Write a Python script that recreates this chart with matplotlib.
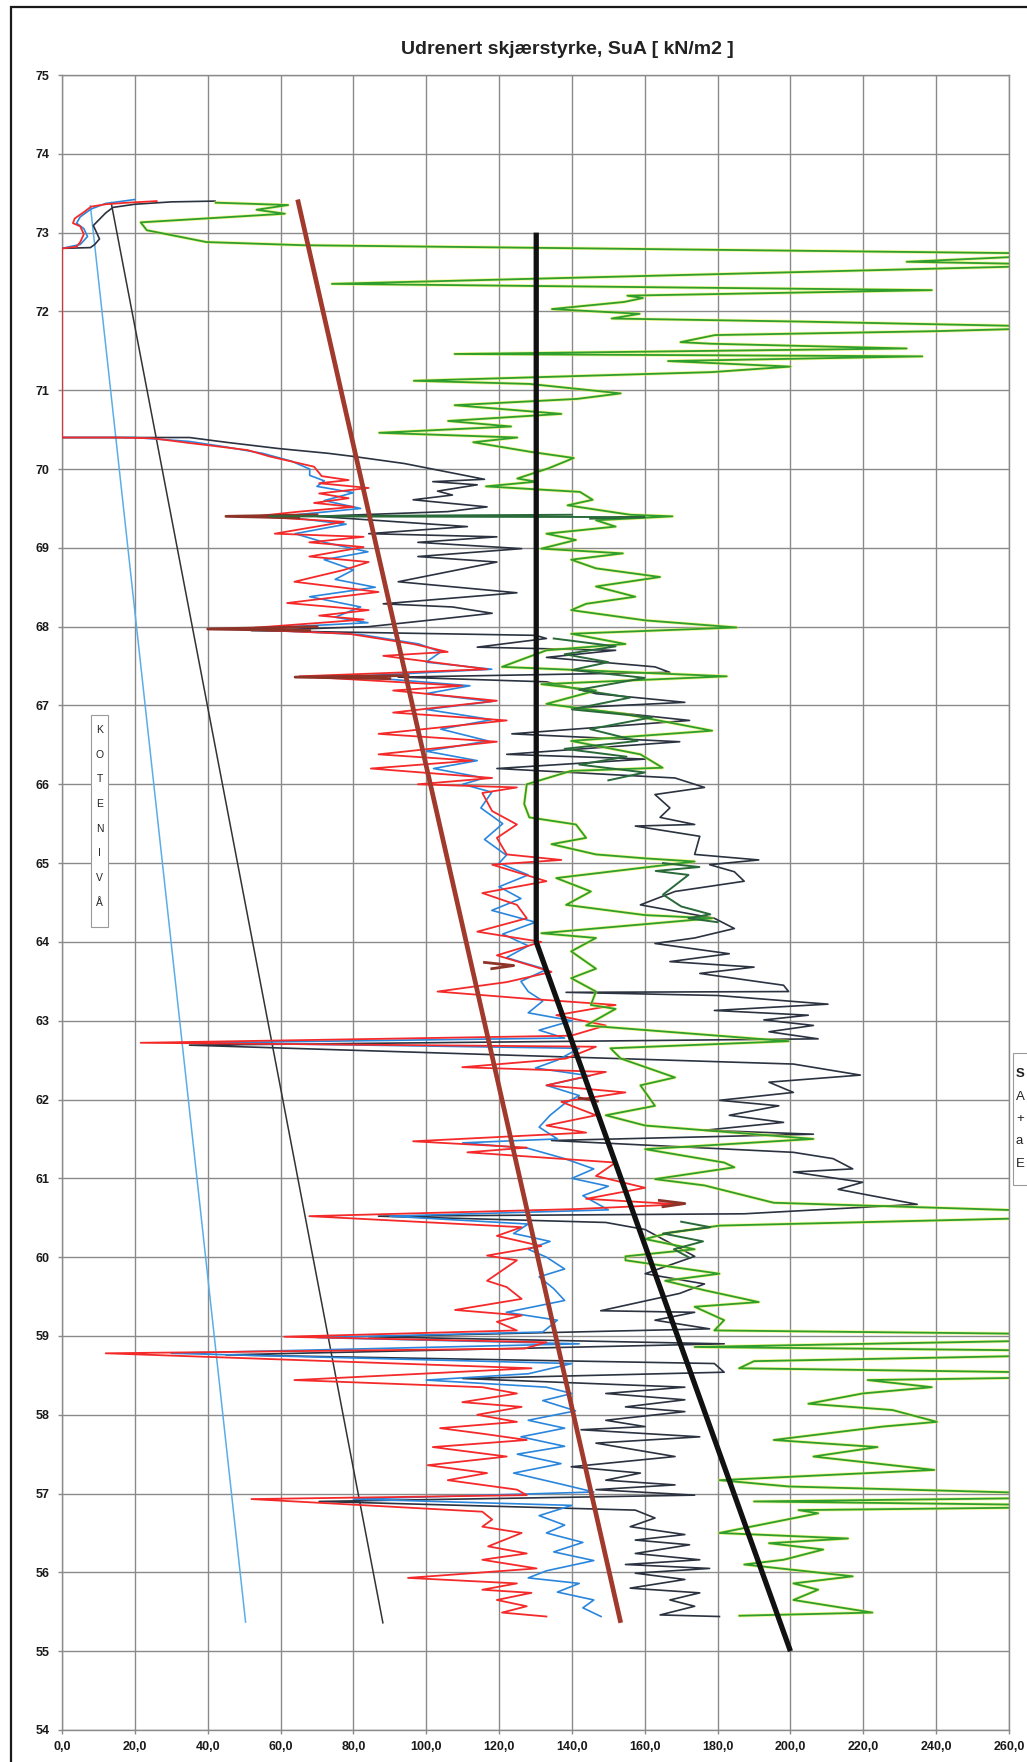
import numpy as np
import matplotlib
matplotlib.use("Agg")
import matplotlib.pyplot as plt
from matplotlib.patches import Rectangle

plt.rcParams['font.family'] = ['Liberation Sans Narrow', 'Liberation Sans', 'DejaVu Sans']

# ---------------- data: (kote [m], Su [kN/m2]) ----------------
title = "Udrenert skjærstyrke, SuA [ kN/m2 ]"
x_ticks = [0, 20, 40, 60, 80, 100, 120, 140, 160, 180, 200, 220, 240, 260]
y_ticks = list(range(54, 76))
kote_label = "KOTENIVÅ"
side_letters = ["S", "A", "+", "a", "E"]

light_blue_line = [(73.34, 7.8), (55.37, 50.4)]
thin_black_line = [(73.38, 13.5), (55.36, 88.1)]
brown_line = [(73.42, 64.7), (55.36, 153.4)]
design_line = [(73.0, 130.2), (64.0, 130.2), (55.0, 200.0)]

red_profile = [
    (73.40, 26.0), (73.38, 18.0), (73.36, 12.0), (73.33, 8.0), (73.26, 6.0), (73.18, 3.5),
    (73.12, 3.0), (73.08, 5.0), (72.98, 6.0), (72.88, 5.0), (72.82, 4.0), (72.80, 0.0),
    (70.40, 0.0), (70.40, 15.0), (70.39, 25.0), (70.33, 35.0), (70.30, 40.5), (70.24, 51.0),
    (70.16, 57.0), (70.03, 69.2), (69.91, 71.3), (69.86, 78.7), (69.82, 70.6), (69.76, 84.2),
    (69.69, 70.6), (69.63, 78.7), (69.57, 69.2), (69.52, 80.1), (69.46, 65.2), (69.40, 53.0),
    (69.33, 77.4), (69.18, 58.4), (69.14, 82.8), (69.07, 67.9), (69.01, 82.8), (68.89, 67.9),
    (68.82, 84.2), (68.72, 77.4), (68.57, 63.8), (68.44, 86.9), (68.30, 61.8), (68.21, 84.2),
    (68.14, 70.6), (68.09, 82.8), (67.97, 48.0), (67.91, 78.7), (67.78, 96.4), (67.68, 105.9),
    (67.63, 88.2), (67.46, 116.7), (67.37, 65.2), (67.25, 109.9), (67.19, 90.9), (67.06, 119.4),
    (66.91, 90.9), (66.81, 122.1), (66.64, 86.9), (66.54, 119.4), (66.38, 86.9), (66.30, 112.6),
    (66.20, 84.8), (66.08, 118.1), (66.00, 97.7), (65.96, 124.9), (65.89, 115.4), (65.66, 118.1),
    (65.49, 124.9), (65.32, 119.4), (65.11, 122.1), (65.04, 137.1), (64.98, 118.1), (64.77, 133.0),
    (64.62, 115.4), (64.47, 124.9), (64.30, 127.6), (64.13, 114.0), (64.00, 131.6), (63.83, 119.4),
    (63.62, 134.4), (63.49, 122.1), (63.37, 103.1), (63.28, 127.6), (63.20, 152.0), (63.07, 135.7),
    (62.94, 149.3), (62.81, 139.8), (62.72, 21.6), (62.67, 146.6), (62.52, 138.4), (62.41, 109.9),
    (62.35, 149.3), (62.18, 133.0), (62.09, 154.7), (61.97, 137.1), (61.80, 146.6), (61.67, 133.0),
    (61.58, 143.9), (61.47, 96.4), (61.39, 127.6), (61.33, 111.3), (61.20, 152.0), (61.03, 146.6),
    (60.88, 160.1), (60.74, 143.9), (60.67, 169.6), (60.61, 141.1), (60.52, 67.9), (60.38, 126.2),
    (60.27, 119.4), (60.14, 131.6), (60.02, 116.7), (59.96, 124.9), (59.70, 116.7), (59.62, 122.1),
    (59.47, 126.2), (59.33, 107.9), (59.26, 126.2), (59.18, 119.4), (59.07, 124.9), (58.99, 61.0),
    (58.92, 133.0), (58.84, 127.0), (58.78, 12.0), (58.59, 128.9), (58.44, 63.8), (58.35, 115.4),
    (58.27, 124.9), (58.16, 109.9), (58.10, 126.2), (58.00, 114.0), (57.91, 124.9), (57.83, 103.8),
    (57.76, 115.4), (57.68, 127.6), (57.59, 101.8), (57.47, 122.1), (57.36, 100.4), (57.26, 116.7),
    (57.17, 105.9), (57.05, 124.9), (56.98, 127.6), (56.93, 52.0), (56.77, 115.4), (56.67, 118.1),
    (56.58, 115.4), (56.50, 126.2), (56.33, 117.0), (56.24, 127.6), (56.16, 115.4), (56.05, 130.3),
    (55.93, 95.0), (55.86, 124.9), (55.78, 115.4), (55.74, 128.9), (55.65, 119.4), (55.57, 127.6),
    (55.49, 120.8), (55.44, 133.0),
]

blue_profile = [
    (73.42, 20.0), (73.37, 12.0), (73.30, 8.0), (73.20, 5.0), (73.12, 4.0), (73.05, 6.0),
    (72.95, 7.0), (72.85, 5.0), (72.80, 0.0), (70.40, 0.0), (70.40, 20.0), (70.35, 35.0),
    (70.28, 45.0), (70.20, 55.0), (70.10, 63.0), (70.00, 68.0), (69.92, 68.0), (69.85, 72.0),
    (69.78, 70.0), (69.70, 80.0), (69.60, 72.0), (69.50, 82.0), (69.40, 60.0), (69.30, 78.0),
    (69.18, 64.0), (69.07, 72.0), (68.95, 84.0), (68.85, 72.0), (68.72, 80.0), (68.60, 75.0),
    (68.50, 86.0), (68.38, 68.0), (68.25, 82.0), (68.12, 75.0), (68.05, 84.0), (67.97, 50.0),
    (67.90, 82.0), (67.78, 98.0), (67.68, 104.0), (67.55, 100.0), (67.46, 118.0), (67.37, 80.0),
    (67.25, 112.0), (67.15, 100.0), (67.05, 118.0), (66.95, 100.0), (66.82, 118.0), (66.70, 104.0),
    (66.55, 117.0), (66.42, 100.0), (66.30, 114.0), (66.20, 102.0), (66.08, 116.0), (66.00, 110.0),
    (65.90, 118.0), (65.70, 115.0), (65.50, 121.0), (65.30, 116.0), (65.10, 122.0), (65.00, 120.0),
    (64.85, 128.0), (64.70, 120.0), (64.55, 126.0), (64.40, 118.0), (64.25, 130.0), (64.10, 121.0),
    (63.95, 128.0), (63.80, 122.0), (63.65, 133.0), (63.50, 126.0), (63.37, 128.0), (63.25, 132.0),
    (63.10, 128.0), (63.00, 140.0), (62.88, 131.0), (62.78, 138.0), (62.72, 40.0), (62.65, 142.0),
    (62.50, 136.0), (62.40, 130.0), (62.30, 145.0), (62.18, 133.0), (62.05, 142.0), (61.95, 138.0),
    (61.80, 134.0), (61.65, 131.0), (61.50, 136.0), (61.45, 110.0), (61.38, 128.0), (61.25, 138.0),
    (61.12, 146.0), (61.00, 140.0), (60.90, 150.0), (60.78, 143.0), (60.60, 150.0), (60.52, 90.0),
    (60.42, 128.0), (60.30, 124.0), (60.20, 134.0), (60.10, 128.0), (60.00, 133.0), (59.85, 138.0),
    (59.75, 131.0), (59.60, 135.0), (59.45, 138.0), (59.30, 122.0), (59.20, 136.0), (59.05, 132.0),
    (58.98, 70.0), (58.90, 142.0), (58.78, 30.0), (58.65, 140.0), (58.52, 128.0), (58.44, 100.0),
    (58.35, 133.0), (58.27, 140.0), (58.18, 132.0), (58.05, 141.0), (57.93, 128.0), (57.83, 138.0),
    (57.72, 126.0), (57.60, 138.0), (57.50, 125.0), (57.38, 137.0), (57.26, 124.0), (57.12, 137.0),
    (57.02, 146.0), (56.93, 80.0), (56.85, 140.0), (56.72, 131.0), (56.60, 138.0), (56.50, 133.0),
    (56.38, 143.0), (56.26, 135.0), (56.15, 146.0), (56.02, 133.0), (55.93, 128.0), (55.86, 142.0),
    (55.75, 136.0), (55.65, 146.0), (55.55, 143.0), (55.44, 148.0),
]

dark_profile = [
    (73.40, 42.0), (73.39, 30.0), (73.36, 20.0), (73.32, 14.0), (73.25, 12.0), (73.17, 10.3),
    (73.09, 8.6), (73.00, 9.5), (72.92, 10.3), (72.85, 9.0), (72.81, 7.8), (72.80, 0.0),
    (70.40, 0.0), (70.40, 25.0), (70.40, 35.0), (70.34, 45.0), (70.26, 59.5), (70.20, 73.0),
    (70.16, 80.0), (70.07, 94.0), (70.00, 101.7), (69.87, 116.0), (69.84, 101.8), (69.80, 114.0),
    (69.72, 103.1), (69.67, 107.2), (69.61, 96.4), (69.52, 116.7), (69.46, 105.9), (69.40, 70.0),
    (69.27, 111.3), (69.18, 84.2), (69.14, 119.4), (69.07, 97.7), (68.99, 126.2), (68.89, 97.7),
    (68.82, 119.4), (68.72, 108.6), (68.57, 92.3), (68.46, 118.1), (68.43, 124.9), (68.29, 88.2),
    (68.25, 107.2), (68.17, 118.1), (68.10, 104.5), (68.00, 84.2), (67.95, 52.0), (67.89, 130.0),
    (67.85, 133.0), (67.74, 114.0), (67.70, 152.0), (67.61, 133.0), (67.49, 162.8), (67.42, 166.9),
    (67.36, 92.3), (67.30, 133.0), (67.15, 146.6), (67.04, 171.0), (66.97, 139.8), (66.81, 172.3),
    (66.64, 123.5), (66.54, 169.6), (66.38, 122.1), (66.32, 160.1), (66.20, 119.4), (66.08, 168.3),
    (65.96, 176.4), (65.87, 162.8), (65.70, 166.9), (65.58, 164.2), (65.49, 173.7), (65.47, 157.4),
    (65.34, 175.1), (65.11, 173.7), (65.04, 191.3), (64.98, 177.8), (64.89, 184.6), (64.77, 187.3),
    (64.64, 168.3), (64.47, 158.8), (64.30, 179.1), (64.17, 184.6), (64.05, 173.7), (63.98, 162.8),
    (63.85, 183.2), (63.75, 166.9), (63.68, 190.0), (63.60, 175.1), (63.45, 198.1), (63.37, 199.5),
    (63.36, 138.4), (63.32, 180.0), (63.21, 210.3), (63.13, 179.1), (63.07, 204.9), (63.01, 192.7),
    (62.94, 206.3), (62.86, 194.1), (62.77, 207.6), (62.69, 35.0), (62.45, 200.8), (62.31, 219.2),
    (62.22, 194.1), (62.09, 200.8), (61.99, 180.5), (61.92, 196.8), (61.80, 183.2), (61.71, 198.1),
    (61.61, 176.4), (61.56, 206.3), (61.48, 134.4), (61.33, 200.8), (61.25, 211.7), (61.12, 217.1),
    (61.08, 200.8), (60.95, 219.8), (60.86, 213.1), (60.67, 234.8), (60.55, 187.3), (60.52, 86.9),
    (60.44, 149.3), (60.35, 160.1), (60.01, 173.7), (59.79, 160.1), (59.66, 176.4), (59.54, 169.6),
    (59.32, 147.9), (59.30, 173.7), (59.20, 162.8), (59.09, 177.8), (58.99, 84.2), (58.90, 181.8),
    (58.76, 45.0), (58.65, 179.1), (58.54, 181.8), (58.46, 110.0), (58.35, 171.0), (58.27, 149.3),
    (58.19, 171.0), (58.10, 154.7), (58.04, 171.0), (57.93, 149.3), (57.85, 160.1), (57.81, 142.5),
    (57.72, 175.1), (57.64, 146.6), (57.47, 168.3), (57.34, 139.8), (57.26, 158.8), (57.17, 149.3),
    (57.11, 168.3), (57.05, 146.6), (56.98, 173.7), (56.90, 70.6), (56.79, 157.4), (56.69, 162.8),
    (56.58, 156.0), (56.48, 171.0), (56.41, 157.4), (56.35, 172.3), (56.24, 157.4), (56.16, 175.1),
    (56.10, 154.7), (56.05, 177.8), (55.99, 157.4), (55.91, 171.0), (55.80, 156.0), (55.74, 175.1),
    (55.65, 166.9), (55.57, 173.7), (55.46, 164.2), (55.44, 180.5),
]

green_profile = [
    (73.38, 42.2), (73.35, 62.1), (73.29, 53.4), (73.24, 61.2), (73.13, 21.6), (73.03, 23.3),
    (72.88, 39.7), (72.84, 66.4), (72.73, 280.0), (72.63, 231.9), (72.59, 280.0), (72.35, 74.1),
    (72.31, 155.2), (72.27, 238.8), (72.20, 155.2), (72.17, 159.5), (72.12, 154.3), (72.03, 134.5),
    (71.97, 158.6), (71.91, 150.9), (71.87, 204.3), (71.80, 280.0), (71.75, 240.5), (71.70, 179.3),
    (71.61, 169.8), (71.59, 178.4), (71.53, 231.9), (71.46, 107.8), (71.43, 236.2), (71.37, 166.4),
    (71.30, 200.0), (71.23, 178.4), (71.12, 96.6), (71.08, 128.4), (70.96, 153.4), (70.89, 141.4),
    (70.81, 107.8), (70.70, 137.1), (70.61, 106.0), (70.54, 123.3), (70.46, 87.1), (70.40, 125.0),
    (70.34, 112.9), (70.22, 128.4), (70.14, 140.5), (70.01, 133.6), (69.88, 125.0), (69.84, 130.2),
    (69.78, 116.4), (69.71, 142.2), (69.61, 145.7), (69.54, 138.8), (69.42, 156.0), (69.40, 167.6),
    (69.35, 146.6), (69.27, 152.0), (69.18, 133.0), (69.10, 141.1), (68.99, 131.6), (68.93, 154.0),
    (68.85, 139.8), (68.74, 146.6), (68.63, 164.2), (68.51, 146.6), (68.38, 157.4), (68.29, 143.9),
    (68.21, 139.8), (68.08, 160.1), (67.99, 185.2), (67.91, 139.8), (67.78, 154.7), (67.70, 133.0),
    (67.49, 120.8), (67.37, 182.5), (67.27, 131.6), (67.19, 146.6), (67.02, 133.0), (66.89, 154.7),
    (66.68, 178.5), (66.55, 139.8), (66.38, 158.8), (66.21, 164.9), (66.17, 139.8), (66.00, 127.6),
    (65.75, 126.9), (65.58, 128.3), (65.49, 141.1), (65.32, 143.9), (65.24, 134.4), (65.11, 146.6),
    (65.06, 160.1), (65.02, 173.7), (64.81, 135.7), (64.64, 145.2), (64.47, 138.4), (64.34, 160.1),
    (64.30, 178.5), (64.11, 131.6), (64.05, 146.6), (63.88, 139.8), (63.66, 146.6), (63.54, 139.8),
    (63.37, 146.6), (63.20, 145.2), (63.15, 152.0), (62.94, 143.9), (62.74, 199.5), (62.65, 150.6),
    (62.52, 153.4), (62.28, 168.3), (62.18, 158.8), (61.92, 162.8), (61.80, 149.3), (61.67, 160.1),
    (61.50, 206.3), (61.37, 160.1), (61.20, 181.8), (61.14, 184.6), (60.99, 162.8), (60.91, 176.4),
    (60.69, 195.4), (60.57, 280.0), (60.51, 280.0), (60.40, 180.5), (60.31, 166.9), (60.23, 160.1),
    (60.10, 173.7), (60.01, 154.7), (59.96, 154.7), (59.79, 180.5), (59.70, 165.6), (59.58, 176.4),
    (59.43, 191.3), (59.37, 173.7), (59.20, 181.8), (59.07, 179.1), (59.02, 280.0), (58.95, 280.0),
    (58.86, 173.7), (58.81, 280.0), (58.76, 280.0), (58.68, 190.0), (58.59, 185.9), (58.53, 280.0),
    (58.48, 280.0), (58.44, 221.2), (58.35, 238.8), (58.27, 219.8), (58.14, 204.9), (58.06, 228.0),
    (57.91, 240.2), (57.85, 225.3), (57.68, 195.4), (57.59, 223.9), (57.47, 206.3), (57.30, 239.5),
    (57.17, 180.5), (57.09, 199.5), (56.99, 280.0), (56.95, 280.0), (56.90, 190.0), (56.85, 280.0),
    (56.83, 280.0), (56.79, 202.2), (56.75, 207.6), (56.50, 180.5), (56.43, 215.8), (56.37, 194.1),
    (56.29, 209.0), (56.16, 198.1), (56.10, 187.3), (55.95, 217.1), (55.86, 200.8), (55.78, 207.6),
    (55.65, 200.8), (55.49, 222.5), (55.45, 186.0),
]

darkgreen_profile = [
    (69.42, 140.0), (69.40, 57.0), (69.39, 160.0), (69.37, 145.0), None,
    (67.85, 135.0), (67.75, 152.0), (67.65, 138.0), (67.55, 150.0), (67.45, 140.0), (67.35, 160.0),
    (67.20, 142.0), (67.10, 156.0), (66.95, 140.0), (66.85, 162.0), (66.70, 145.0), (66.55, 158.0),
    (66.45, 138.0), (66.35, 155.0), (66.25, 142.0), (66.15, 160.0), (66.05, 150.0), None,
    (65.00, 165.0), (64.95, 175.0), (64.90, 163.0), (64.85, 172.0), (64.60, 165.0), (64.45, 170.0),
    (64.35, 178.0), (64.30, 172.0), (64.25, 180.0), None,
    (60.45, 170.0), (60.38, 178.0), (60.30, 165.0), (60.20, 176.0), (60.10, 168.0), (60.00, 172.0),
]

maroon_spikes = [
    (69.42, 70.0), (69.40, 45.0), (69.38, 65.0), None,
    (68.00, 70.0), (67.97, 40.0), (67.95, 68.0), None,
    (67.38, 95.0), (67.36, 64.0), (67.34, 90.0), None,
    (63.74, 116.0), (63.70, 124.0), (63.66, 118.0), None,
    (62.02, 142.0), (61.98, 147.0), None,
    (60.72, 164.0), (60.68, 171.0), (60.64, 165.0),
]


def xy(profile):
    ks = [np.nan if p is None else p[0] for p in profile]
    vs = [np.nan if p is None else p[1] for p in profile]
    return np.array(vs, float), np.array(ks, float)


W, H = 1027, 1762
fig = plt.figure(figsize=(W / 100, H / 100), dpi=100)
ax = fig.add_axes([62 / W, 1 - 1730 / H, (1009 - 62) / W, (1730 - 75) / H])

ax.set_xlim(0, 260)
ax.set_ylim(54, 75)
ax.set_xticks(x_ticks)
ax.set_yticks(y_ticks)
ax.set_xticklabels([f"{v:.1f}".replace(".", ",") for v in x_ticks])
ax.set_yticklabels([str(v) for v in y_ticks])
ax.grid(True, color="#8a8a8a", lw=1.0)
ax.set_axisbelow(True)
for s in ax.spines.values():
    s.set_color("#8a8a8a")
    s.set_linewidth(1.0)
ax.tick_params(axis="both", colors="#8a8a8a", length=3, width=1.0, labelcolor="#1a1a1a",
               labelsize=9)
ax.tick_params(axis="y", pad=6)
ax.tick_params(axis="x", pad=5)
for lab in ax.get_xticklabels() + ax.get_yticklabels():
    lab.set_fontweight("bold")

# straight reference lines
x, y = xy(light_blue_line)
ax.plot(x, y, color="#5aaee8", lw=1.1, zorder=3)
x, y = xy(thin_black_line)
ax.plot(x, y, color="#333333", lw=1.1, zorder=3)

# CPTU profiles
x, y = xy(dark_profile)
ax.plot(x, y, color="#2b3240", lw=1.2, zorder=4)
x, y = xy(blue_profile)
ax.plot(x, y, color="#2a86dc", lw=1.2, zorder=5)
x, y = xy(red_profile)
ax.plot(x, y, color="#f42a2a", lw=1.3, zorder=6)
x, y = xy(maroon_spikes)
ax.plot(x, y, color="#8e3328", lw=2.0, zorder=6)
x, y = xy(green_profile)
ax.plot(x, y, color="#e6ef3a", lw=2.4, alpha=0.55, zorder=7)
ax.plot(x, y, color="#2e9e2e", lw=1.3, zorder=7)
x, y = xy(darkgreen_profile)
ax.plot(x, y, color="#2a6a3a", lw=1.4, zorder=7)

# design lines
x, y = xy(brown_line)
ax.plot(x, y, color="#a13a2c", lw=3.4, zorder=8, solid_capstyle="butt")
x, y = xy(design_line)
ax.plot(x, y, color="#111111", lw=3.8, zorder=9, solid_capstyle="butt")

# title
fig.text(567 / W, 1 - 50 / H, title, ha="center", va="center", fontsize=14,
         fontweight="bold", color="#222222")

# KOTENIVÅ box
fig.patches.append(Rectangle((91 / W, 1 - 927 / H), 17 / W, 212 / H, transform=fig.transFigure,
                             facecolor="white", edgecolor="#9a9a9a", lw=0.8, zorder=10))
for i, ch in enumerate(kote_label):
    fig.text(99.5 / W, 1 - (730 + i * 24.7) / H, ch, ha="center", va="center", fontsize=7.5,
             color="#222222", zorder=11)

# side text box at right edge
fig.patches.append(Rectangle((1013 / W, 1 - 1185 / H), 40 / W, 132 / H, transform=fig.transFigure,
                             facecolor="white", edgecolor="#9a9a9a", lw=0.8, zorder=10))
for i, ch in enumerate(side_letters):
    fig.text(1016 / W, 1 - (1074 + i * 22.5) / H, ch, ha="left", va="center", fontsize=9.5,
             color="#222222", fontweight="bold" if i == 0 else "normal", zorder=11)

# outer frame
fig.patches.append(Rectangle((11 / W, -0.02), 1040 / W, 1 - 7 / H + 0.02, transform=fig.transFigure,
                             facecolor="none", edgecolor="#1a1a1a", lw=1.6, zorder=12))

fig.savefig("out.png", dpi=100)
